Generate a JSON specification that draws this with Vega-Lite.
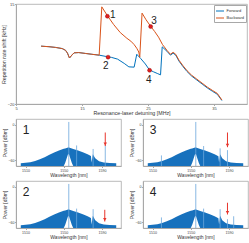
{
  "$schema": "https://vega.github.io/schema/vega-lite/v6.json",
  "background": "white",
  "padding": {"left": 1, "top": 1, "right": 1, "bottom": 0},
  "spacing": 1,
  "resolve": {"scale": {"color": "independent"}, "legend": {"color": "independent"}},
  "config": {
    "font": "Liberation Sans",
    "view": {"stroke": "#a8a8a8", "strokeWidth": 0.8},
    "axis": {"grid": false, "labelOverlap": false, "labelFlush": false, "domainColor": "#a8a8a8", "tickColor": "#a8a8a8", "tickSize": 1.5, "labelColor": "#444", "titleColor": "#333", "titleFontWeight": "normal", "labelFontSize": 4, "titleFontSize": 5.3, "labelPadding": 0.5, "titlePadding": 0.5, "labelFont": "Liberation Sans", "titleFont": "Liberation Sans"}
  },
  "datasets": {
    "spec": [
      {"panel": 1, "kind": "env", "wl": 1505, "hi": -65.5, "lo": -70}, {"panel": 1, "kind": "env", "wl": 1510, "hi": -64.5, "lo": -70}, {"panel": 1, "kind": "env", "wl": 1515, "hi": -63.5, "lo": -70}, {"panel": 1, "kind": "env", "wl": 1520, "hi": -61.5, "lo": -70}, {"panel": 1, "kind": "env", "wl": 1525, "hi": -58.5, "lo": -70}, {"panel": 1, "kind": "env", "wl": 1530, "hi": -55, "lo": -70}, {"panel": 1, "kind": "env", "wl": 1535, "hi": -51, "lo": -70}, {"panel": 1, "kind": "env", "wl": 1540, "hi": -47, "lo": -70}, {"panel": 1, "kind": "env", "wl": 1545, "hi": -43.5, "lo": -70}, {"panel": 1, "kind": "env", "wl": 1550, "hi": -40.5, "lo": -70}, {"panel": 1, "kind": "env", "wl": 1551.5, "hi": -40, "lo": -65}, {"panel": 1, "kind": "env", "wl": 1554.5, "hi": -38.5, "lo": -50}, {"panel": 1, "kind": "env", "wl": 1555.5, "hi": -38.5, "lo": -50}, {"panel": 1, "kind": "env", "wl": 1558.5, "hi": -40, "lo": -65}, {"panel": 1, "kind": "env", "wl": 1560, "hi": -41, "lo": -70}, {"panel": 1, "kind": "env", "wl": 1565, "hi": -43.5, "lo": -70}, {"panel": 1, "kind": "env", "wl": 1570, "hi": -46.5, "lo": -70}, {"panel": 1, "kind": "env", "wl": 1575, "hi": -50, "lo": -70}, {"panel": 1, "kind": "env", "wl": 1578.5, "hi": -53, "lo": -70}, {"panel": 1, "kind": "env", "wl": 1579.2, "hi": -64, "lo": -70}, {"panel": 1, "kind": "env", "wl": 1580.5, "hi": -50, "lo": -70}, {"panel": 1, "kind": "env", "wl": 1583, "hi": -57, "lo": -70}, {"panel": 1, "kind": "env", "wl": 1587, "hi": -62, "lo": -70}, {"panel": 1, "kind": "env", "wl": 1592, "hi": -64, "lo": -70}, {"panel": 1, "kind": "env", "wl": 1598, "hi": -65, "lo": -70}, {"panel": 1, "kind": "env", "wl": 1605, "hi": -65.5, "lo": -70},
      {"panel": 1, "kind": "spike", "wl": 1555.3, "hi": 5, "lo": -70}, {"panel": 1, "kind": "spike", "wl": 1563.5, "hi": -35, "lo": -70}, {"panel": 1, "kind": "spike", "wl": 1580.8, "hi": -41, "lo": -70}, {"panel": 1, "kind": "spike", "wl": 1593.5, "hi": -35, "lo": -70},
      {"panel": 1, "kind": "arrow", "wl": 1593.5, "hi": -13, "lo": -36},
      {"panel": 1, "kind": "label", "wl": 1507, "hi": -15},
      {"panel": 3, "kind": "env", "wl": 1505, "hi": -65.5, "lo": -70}, {"panel": 3, "kind": "env", "wl": 1510, "hi": -64.5, "lo": -70}, {"panel": 3, "kind": "env", "wl": 1515, "hi": -63.5, "lo": -70}, {"panel": 3, "kind": "env", "wl": 1520, "hi": -61.5, "lo": -70}, {"panel": 3, "kind": "env", "wl": 1525, "hi": -58.5, "lo": -70}, {"panel": 3, "kind": "env", "wl": 1530, "hi": -55, "lo": -70}, {"panel": 3, "kind": "env", "wl": 1535, "hi": -51, "lo": -70}, {"panel": 3, "kind": "env", "wl": 1540, "hi": -47, "lo": -70}, {"panel": 3, "kind": "env", "wl": 1545, "hi": -43.5, "lo": -70}, {"panel": 3, "kind": "env", "wl": 1550, "hi": -40.5, "lo": -70}, {"panel": 3, "kind": "env", "wl": 1551.5, "hi": -40, "lo": -65}, {"panel": 3, "kind": "env", "wl": 1554.5, "hi": -38.5, "lo": -50}, {"panel": 3, "kind": "env", "wl": 1555.5, "hi": -38.5, "lo": -50}, {"panel": 3, "kind": "env", "wl": 1558.5, "hi": -40, "lo": -65}, {"panel": 3, "kind": "env", "wl": 1560, "hi": -41, "lo": -70}, {"panel": 3, "kind": "env", "wl": 1565, "hi": -43.5, "lo": -70}, {"panel": 3, "kind": "env", "wl": 1570, "hi": -46.5, "lo": -70}, {"panel": 3, "kind": "env", "wl": 1575, "hi": -50, "lo": -70}, {"panel": 3, "kind": "env", "wl": 1579, "hi": -53.5, "lo": -70}, {"panel": 3, "kind": "env", "wl": 1579.7, "hi": -64, "lo": -70}, {"panel": 3, "kind": "env", "wl": 1580.8, "hi": -50, "lo": -70}, {"panel": 3, "kind": "env", "wl": 1583, "hi": -57, "lo": -70}, {"panel": 3, "kind": "env", "wl": 1587, "hi": -62, "lo": -70}, {"panel": 3, "kind": "env", "wl": 1592, "hi": -64, "lo": -70}, {"panel": 3, "kind": "env", "wl": 1598, "hi": -65, "lo": -70}, {"panel": 3, "kind": "env", "wl": 1605, "hi": -65.5, "lo": -70},
      {"panel": 3, "kind": "spike", "wl": 1555.3, "hi": 5, "lo": -70}, {"panel": 3, "kind": "spike", "wl": 1519.3, "hi": -52, "lo": -70}, {"panel": 3, "kind": "spike", "wl": 1563.5, "hi": -36, "lo": -70}, {"panel": 3, "kind": "spike", "wl": 1580.8, "hi": -40, "lo": -70}, {"panel": 3, "kind": "spike", "wl": 1588.5, "hi": -43, "lo": -70},
      {"panel": 3, "kind": "arrow", "wl": 1588.5, "hi": -13, "lo": -38},
      {"panel": 3, "kind": "label", "wl": 1507, "hi": -15},
      {"panel": 2, "kind": "env", "wl": 1505, "hi": -65.5, "lo": -70}, {"panel": 2, "kind": "env", "wl": 1510, "hi": -64.5, "lo": -70}, {"panel": 2, "kind": "env", "wl": 1515, "hi": -63.5, "lo": -70}, {"panel": 2, "kind": "env", "wl": 1520, "hi": -61.5, "lo": -70}, {"panel": 2, "kind": "env", "wl": 1525, "hi": -58.5, "lo": -70}, {"panel": 2, "kind": "env", "wl": 1530, "hi": -55, "lo": -70}, {"panel": 2, "kind": "env", "wl": 1535, "hi": -51, "lo": -70}, {"panel": 2, "kind": "env", "wl": 1540, "hi": -47, "lo": -70}, {"panel": 2, "kind": "env", "wl": 1545, "hi": -43.5, "lo": -70}, {"panel": 2, "kind": "env", "wl": 1550, "hi": -40.5, "lo": -70}, {"panel": 2, "kind": "env", "wl": 1551.5, "hi": -40, "lo": -65}, {"panel": 2, "kind": "env", "wl": 1554.5, "hi": -38.5, "lo": -50}, {"panel": 2, "kind": "env", "wl": 1555.5, "hi": -38.5, "lo": -50}, {"panel": 2, "kind": "env", "wl": 1558.5, "hi": -40, "lo": -65}, {"panel": 2, "kind": "env", "wl": 1560, "hi": -41, "lo": -70}, {"panel": 2, "kind": "env", "wl": 1565, "hi": -43.5, "lo": -70}, {"panel": 2, "kind": "env", "wl": 1570, "hi": -46.5, "lo": -70}, {"panel": 2, "kind": "env", "wl": 1575, "hi": -50, "lo": -70}, {"panel": 2, "kind": "env", "wl": 1578.5, "hi": -53, "lo": -70}, {"panel": 2, "kind": "env", "wl": 1579.2, "hi": -64, "lo": -70}, {"panel": 2, "kind": "env", "wl": 1580.5, "hi": -49, "lo": -70}, {"panel": 2, "kind": "env", "wl": 1583, "hi": -57, "lo": -70}, {"panel": 2, "kind": "env", "wl": 1587, "hi": -62, "lo": -70}, {"panel": 2, "kind": "env", "wl": 1592, "hi": -64, "lo": -70}, {"panel": 2, "kind": "env", "wl": 1598, "hi": -65, "lo": -70}, {"panel": 2, "kind": "env", "wl": 1605, "hi": -65.5, "lo": -70},
      {"panel": 2, "kind": "spike", "wl": 1555.3, "hi": 5, "lo": -70}, {"panel": 2, "kind": "spike", "wl": 1563.5, "hi": -37, "lo": -70}, {"panel": 2, "kind": "spike", "wl": 1580.8, "hi": -38, "lo": -70},
      {"panel": 2, "kind": "arrow", "wl": 1593, "hi": -39, "lo": -59},
      {"panel": 2, "kind": "label", "wl": 1507, "hi": -15},
      {"panel": 4, "kind": "env", "wl": 1505, "hi": -65.5, "lo": -70}, {"panel": 4, "kind": "env", "wl": 1510, "hi": -64.5, "lo": -70}, {"panel": 4, "kind": "env", "wl": 1515, "hi": -63.5, "lo": -70}, {"panel": 4, "kind": "env", "wl": 1520, "hi": -61.5, "lo": -70}, {"panel": 4, "kind": "env", "wl": 1525, "hi": -58.5, "lo": -70}, {"panel": 4, "kind": "env", "wl": 1530, "hi": -55, "lo": -70}, {"panel": 4, "kind": "env", "wl": 1535, "hi": -51, "lo": -70}, {"panel": 4, "kind": "env", "wl": 1540, "hi": -47, "lo": -70}, {"panel": 4, "kind": "env", "wl": 1545, "hi": -43.5, "lo": -70}, {"panel": 4, "kind": "env", "wl": 1550, "hi": -40.5, "lo": -70}, {"panel": 4, "kind": "env", "wl": 1551.5, "hi": -40, "lo": -65}, {"panel": 4, "kind": "env", "wl": 1554.5, "hi": -38.5, "lo": -50}, {"panel": 4, "kind": "env", "wl": 1555.5, "hi": -38.5, "lo": -50}, {"panel": 4, "kind": "env", "wl": 1558.5, "hi": -40, "lo": -65}, {"panel": 4, "kind": "env", "wl": 1560, "hi": -41, "lo": -70}, {"panel": 4, "kind": "env", "wl": 1565, "hi": -43.5, "lo": -70}, {"panel": 4, "kind": "env", "wl": 1570, "hi": -46.5, "lo": -70}, {"panel": 4, "kind": "env", "wl": 1575, "hi": -50, "lo": -70}, {"panel": 4, "kind": "env", "wl": 1579, "hi": -53.5, "lo": -70}, {"panel": 4, "kind": "env", "wl": 1579.7, "hi": -64, "lo": -70}, {"panel": 4, "kind": "env", "wl": 1580.8, "hi": -49, "lo": -70}, {"panel": 4, "kind": "env", "wl": 1583, "hi": -57, "lo": -70}, {"panel": 4, "kind": "env", "wl": 1587, "hi": -62, "lo": -70}, {"panel": 4, "kind": "env", "wl": 1592, "hi": -64, "lo": -70}, {"panel": 4, "kind": "env", "wl": 1598, "hi": -65, "lo": -70}, {"panel": 4, "kind": "env", "wl": 1605, "hi": -65.5, "lo": -70},
      {"panel": 4, "kind": "spike", "wl": 1555.3, "hi": 5, "lo": -70}, {"panel": 4, "kind": "spike", "wl": 1519.3, "hi": -52, "lo": -70}, {"panel": 4, "kind": "spike", "wl": 1563.5, "hi": -37, "lo": -70}, {"panel": 4, "kind": "spike", "wl": 1580.8, "hi": -38, "lo": -70}, {"panel": 4, "kind": "spike", "wl": 1588.5, "hi": -55, "lo": -70}, {"panel": 4, "kind": "spike", "wl": 1595, "hi": -50, "lo": -70},
      {"panel": 4, "kind": "arrow", "wl": 1588.5, "hi": -27, "lo": -47},
      {"panel": 4, "kind": "label", "wl": 1507, "hi": -15}
    ]
  },
  "vconcat": [
    {
      "width": 231,
      "height": 100,
      "layer": [
        {
          "data": {"values": [
            {"dir": "Forward", "x": 8.8, "y": 0.25}, {"dir": "Forward", "x": 10, "y": 0.05}, {"dir": "Forward", "x": 11, "y": -0.2}, {"dir": "Forward", "x": 12, "y": -0.6}, {"dir": "Forward", "x": 12.5, "y": -1.2}, {"dir": "Forward", "x": 12.8, "y": -2.2}, {"dir": "Forward", "x": 13.1, "y": -3.9}, {"dir": "Forward", "x": 13.5, "y": -2.8}, {"dir": "Forward", "x": 13.8, "y": -2.1}, {"dir": "Forward", "x": 14.5, "y": -2.0}, {"dir": "Forward", "x": 15.5, "y": -2.3}, {"dir": "Forward", "x": 16.5, "y": -2.6}, {"dir": "Forward", "x": 17.6, "y": -2.9},
            {"dir": "Forward", "x": 18.5, "y": -3.3}, {"dir": "Forward", "x": 19.5, "y": -3.7}, {"dir": "Forward", "x": 20.4, "y": -4.3}, {"dir": "Forward", "x": 21.4, "y": -5.8}, {"dir": "Forward", "x": 22.1, "y": -7.0}, {"dir": "Forward", "x": 22.9, "y": -7.1}, {"dir": "Forward", "x": 23.3, "y": -2.6}, {"dir": "Forward", "x": 23.9, "y": -4.1}, {"dir": "Forward", "x": 24.6, "y": -6.0}, {"dir": "Forward", "x": 25.2, "y": -8.0}, {"dir": "Forward", "x": 25.8, "y": -8.7}, {"dir": "Forward", "x": 26.4, "y": -9.3}, {"dir": "Forward", "x": 26.9, "y": -9.8}, {"dir": "Forward", "x": 27.15, "y": 0.0}, {"dir": "Forward", "x": 27.9, "y": -1.6}, {"dir": "Forward", "x": 28.4, "y": -2.9}, {"dir": "Forward", "x": 28.8, "y": -2.2}, {"dir": "Forward", "x": 29.2, "y": -2.9}, {"dir": "Forward", "x": 29.7, "y": -5.0}, {"dir": "Forward", "x": 30.3, "y": -6.9}, {"dir": "Forward", "x": 30.9, "y": -8.6}, {"dir": "Forward", "x": 31.6, "y": -10.2}, {"dir": "Forward", "x": 32.4, "y": -11.6}, {"dir": "Forward", "x": 33.2, "y": -13.0}, {"dir": "Forward", "x": 34.0, "y": -14.4}, {"dir": "Forward", "x": 34.8, "y": -15.6}, {"dir": "Forward", "x": 35.5, "y": -16.6}, {"dir": "Forward", "x": 36.2, "y": -18.8},
            {"dir": "Backward", "x": 8.8, "y": 0.25}, {"dir": "Backward", "x": 10, "y": 0.05}, {"dir": "Backward", "x": 11, "y": -0.2}, {"dir": "Backward", "x": 12, "y": -0.6}, {"dir": "Backward", "x": 12.5, "y": -1.2}, {"dir": "Backward", "x": 12.8, "y": -2.2}, {"dir": "Backward", "x": 13.1, "y": -3.9}, {"dir": "Backward", "x": 13.5, "y": -2.8}, {"dir": "Backward", "x": 13.8, "y": -2.1}, {"dir": "Backward", "x": 14.5, "y": -2.0}, {"dir": "Backward", "x": 15.5, "y": -2.3}, {"dir": "Backward", "x": 16.5, "y": -2.6}, {"dir": "Backward", "x": 17.6, "y": -2.9},
            {"dir": "Backward", "x": 18.0, "y": 14.0}, {"dir": "Backward", "x": 18.85, "y": 10.9}, {"dir": "Backward", "x": 19.8, "y": 7.8}, {"dir": "Backward", "x": 20.8, "y": 5.0}, {"dir": "Backward", "x": 21.8, "y": 3.0}, {"dir": "Backward", "x": 22.4, "y": 2.0}, {"dir": "Backward", "x": 22.9, "y": 0.8}, {"dir": "Backward", "x": 23.3, "y": -0.5}, {"dir": "Backward", "x": 23.6, "y": -1.8}, {"dir": "Backward", "x": 23.75, "y": -3.6}, {"dir": "Backward", "x": 24.1, "y": 11.8}, {"dir": "Backward", "x": 24.7, "y": 9.5}, {"dir": "Backward", "x": 25.4, "y": 7.2}, {"dir": "Backward", "x": 26.0, "y": 5.4}, {"dir": "Backward", "x": 26.6, "y": 3.4}, {"dir": "Backward", "x": 27.2, "y": 0.8}, {"dir": "Backward", "x": 27.9, "y": -1.3}, {"dir": "Backward", "x": 28.4, "y": -2.6}, {"dir": "Backward", "x": 28.8, "y": -1.9}, {"dir": "Backward", "x": 29.2, "y": -2.6}, {"dir": "Backward", "x": 29.7, "y": -4.7}, {"dir": "Backward", "x": 30.3, "y": -6.6}, {"dir": "Backward", "x": 30.9, "y": -8.3}, {"dir": "Backward", "x": 31.6, "y": -9.9}, {"dir": "Backward", "x": 32.4, "y": -11.3}, {"dir": "Backward", "x": 33.2, "y": -12.7}, {"dir": "Backward", "x": 34.0, "y": -14.1}, {"dir": "Backward", "x": 34.8, "y": -15.3}, {"dir": "Backward", "x": 35.5, "y": -16.3}, {"dir": "Backward", "x": 36.2, "y": -18.6}
          ]},
          "layer": [
            {
              "transform": [{"filter": "datum.dir == 'Forward'"}],
              "mark": {"type": "line", "strokeWidth": 1},
              "encoding": {
                "x": {"field": "x", "type": "quantitative", "scale": {"domain": [5, 40]}, "axis": {"values": [5, 10, 15, 20, 25, 30, 35, 40], "title": "Resonance-laser detuning [MHz]", "labelOverlap": false, "labelFontSize": 4}},
                "y": {"field": "y", "type": "quantitative", "scale": {"domain": [-20, 15]}, "axis": {"values": [-20, -15, -10, -5, 0, 5, 10, 15], "title": "Repetition rate shift [kHz]", "labelOverlap": false, "labelFontSize": 4}},
                "color": {"field": "dir", "type": "nominal", "scale": {"domain": ["Forward", "Backward"], "range": ["#0072BD", "#D95319"]}, "legend": {"title": null, "orient": "top-right", "offset": 1, "symbolType": "stroke", "symbolSize": 64, "symbolStrokeWidth": 1, "labelFontSize": 4, "labelColor": "#333", "rowPadding": 0, "padding": 1.5, "strokeColor": "#a8a8a8", "fillColor": "white", "labelOffset": 2, "symbolOffset": 0}}
              }
            },
            {
              "transform": [{"filter": "datum.dir == 'Backward'"}],
              "mark": {"type": "line", "strokeWidth": 1},
              "encoding": {
                "x": {"field": "x", "type": "quantitative"},
                "y": {"field": "y", "type": "quantitative"},
                "color": {"field": "dir", "type": "nominal"}
              }
            }
          ]
        },
        {
          "data": {"values": [
            {"n": "1", "x": 18.85, "y": 10.7, "lx": 19.25, "ly": 10.0},
            {"n": "2", "x": 18.95, "y": -3.6, "lx": 18.2, "ly": -7.9},
            {"n": "3", "x": 25.4, "y": 7.1, "lx": 25.5, "ly": 8.1},
            {"n": "4", "x": 25.24, "y": -8.2, "lx": 24.7, "ly": -12.6}
          ]},
          "layer": [
            {
              "mark": {"type": "point", "filled": true, "size": 16, "color": "#e02020", "stroke": "#8a0000", "strokeWidth": 0.4, "opacity": 1},
              "encoding": {"x": {"field": "x", "type": "quantitative"}, "y": {"field": "y", "type": "quantitative"}}
            },
            {
              "mark": {"type": "text", "fontSize": 10, "align": "left", "baseline": "alphabetic", "color": "#222", "font": "Liberation Sans"},
              "encoding": {"x": {"field": "lx", "type": "quantitative"}, "y": {"field": "ly", "type": "quantitative"}, "text": {"field": "n"}}
            }
          ]
        }
      ]
    },
    {
      "vconcat": [
        {
          "hconcat": [
            {"width": 105, "height": 47, "data": {"name": "spec"}, "transform": [{"filter": "datum.panel == 1"}], "layer": [
              {"transform": [{"filter": "datum.kind == 'env'"}], "mark": {"type": "area", "color": "#1771bd", "opacity": 1}, "encoding": {"x": {"field": "wl", "type": "quantitative", "scale": {"domain": [1505, 1605]}, "axis": {"values": [1510, 1520, 1530, 1540, 1550, 1560, 1570, 1580, 1590, 1600], "format": "d", "title": "Wavelength [nm]", "labelFontSize": 3.6, "titleFontSize": 5, "labelOverlap": false}}, "y": {"field": "hi", "type": "quantitative", "scale": {"domain": [-70, 10]}, "axis": {"values": [0, -20, -40, -60], "title": "Power [dBm]", "labelFontSize": 3.6, "titleFontSize": 5, "labelOverlap": false}}, "y2": {"field": "lo"}}},
              {"transform": [{"filter": "datum.kind == 'spike'"}], "mark": {"type": "rule", "color": "#6aa6dc", "strokeWidth": 0.8}, "encoding": {"x": {"field": "wl", "type": "quantitative"}, "y": {"field": "hi", "type": "quantitative"}, "y2": {"field": "lo"}}},
              {"transform": [{"filter": "datum.kind == 'arrow'"}], "mark": {"type": "rule", "color": "#e8352c", "strokeWidth": 1}, "encoding": {"x": {"field": "wl", "type": "quantitative"}, "y": {"field": "hi", "type": "quantitative"}, "y2": {"field": "lo"}}},
              {"transform": [{"filter": "datum.kind == 'arrow'"}], "mark": {"type": "point", "shape": "triangle-down", "filled": true, "color": "#e8352c", "size": 12, "opacity": 1, "yOffset": -2}, "encoding": {"x": {"field": "wl", "type": "quantitative"}, "y": {"field": "lo", "type": "quantitative"}}},
              {"transform": [{"filter": "datum.kind == 'label'"}], "mark": {"type": "text", "fontSize": 12, "align": "left", "baseline": "alphabetic", "color": "#222", "font": "Liberation Sans"}, "encoding": {"x": {"field": "wl", "type": "quantitative"}, "y": {"field": "hi", "type": "quantitative"}, "text": {"field": "panel"}}}
            ]},
            {"width": 105, "height": 47, "data": {"name": "spec"}, "transform": [{"filter": "datum.panel == 3"}], "layer": [
              {"transform": [{"filter": "datum.kind == 'env'"}], "mark": {"type": "area", "color": "#1771bd", "opacity": 1}, "encoding": {"x": {"field": "wl", "type": "quantitative", "scale": {"domain": [1505, 1605]}, "axis": {"values": [1510, 1520, 1530, 1540, 1550, 1560, 1570, 1580, 1590, 1600], "format": "d", "title": "Wavelength [nm]", "labelFontSize": 3.6, "titleFontSize": 5, "labelOverlap": false}}, "y": {"field": "hi", "type": "quantitative", "scale": {"domain": [-70, 10]}, "axis": {"values": [0, -20, -40, -60], "title": "Power [dBm]", "labelFontSize": 3.6, "titleFontSize": 5, "labelOverlap": false}}, "y2": {"field": "lo"}}},
              {"transform": [{"filter": "datum.kind == 'spike'"}], "mark": {"type": "rule", "color": "#6aa6dc", "strokeWidth": 0.8}, "encoding": {"x": {"field": "wl", "type": "quantitative"}, "y": {"field": "hi", "type": "quantitative"}, "y2": {"field": "lo"}}},
              {"transform": [{"filter": "datum.kind == 'arrow'"}], "mark": {"type": "rule", "color": "#e8352c", "strokeWidth": 1}, "encoding": {"x": {"field": "wl", "type": "quantitative"}, "y": {"field": "hi", "type": "quantitative"}, "y2": {"field": "lo"}}},
              {"transform": [{"filter": "datum.kind == 'arrow'"}], "mark": {"type": "point", "shape": "triangle-down", "filled": true, "color": "#e8352c", "size": 12, "opacity": 1, "yOffset": -2}, "encoding": {"x": {"field": "wl", "type": "quantitative"}, "y": {"field": "lo", "type": "quantitative"}}},
              {"transform": [{"filter": "datum.kind == 'label'"}], "mark": {"type": "text", "fontSize": 12, "align": "left", "baseline": "alphabetic", "color": "#222", "font": "Liberation Sans"}, "encoding": {"x": {"field": "wl", "type": "quantitative"}, "y": {"field": "hi", "type": "quantitative"}, "text": {"field": "panel"}}}
            ]}
          ],
          "spacing": 7
        },
        {
          "hconcat": [
            {"width": 105, "height": 47, "data": {"name": "spec"}, "transform": [{"filter": "datum.panel == 2"}], "layer": [
              {"transform": [{"filter": "datum.kind == 'env'"}], "mark": {"type": "area", "color": "#1771bd", "opacity": 1}, "encoding": {"x": {"field": "wl", "type": "quantitative", "scale": {"domain": [1505, 1605]}, "axis": {"values": [1510, 1520, 1530, 1540, 1550, 1560, 1570, 1580, 1590, 1600], "format": "d", "title": "Wavelength [nm]", "labelFontSize": 3.6, "titleFontSize": 5, "labelOverlap": false}}, "y": {"field": "hi", "type": "quantitative", "scale": {"domain": [-70, 10]}, "axis": {"values": [0, -20, -40, -60], "title": "Power [dBm]", "labelFontSize": 3.6, "titleFontSize": 5, "labelOverlap": false}}, "y2": {"field": "lo"}}},
              {"transform": [{"filter": "datum.kind == 'spike'"}], "mark": {"type": "rule", "color": "#6aa6dc", "strokeWidth": 0.8}, "encoding": {"x": {"field": "wl", "type": "quantitative"}, "y": {"field": "hi", "type": "quantitative"}, "y2": {"field": "lo"}}},
              {"transform": [{"filter": "datum.kind == 'arrow'"}], "mark": {"type": "rule", "color": "#e8352c", "strokeWidth": 1}, "encoding": {"x": {"field": "wl", "type": "quantitative"}, "y": {"field": "hi", "type": "quantitative"}, "y2": {"field": "lo"}}},
              {"transform": [{"filter": "datum.kind == 'arrow'"}], "mark": {"type": "point", "shape": "triangle-down", "filled": true, "color": "#e8352c", "size": 12, "opacity": 1, "yOffset": -2}, "encoding": {"x": {"field": "wl", "type": "quantitative"}, "y": {"field": "lo", "type": "quantitative"}}},
              {"transform": [{"filter": "datum.kind == 'label'"}], "mark": {"type": "text", "fontSize": 12, "align": "left", "baseline": "alphabetic", "color": "#222", "font": "Liberation Sans"}, "encoding": {"x": {"field": "wl", "type": "quantitative"}, "y": {"field": "hi", "type": "quantitative"}, "text": {"field": "panel"}}}
            ]},
            {"width": 105, "height": 47, "data": {"name": "spec"}, "transform": [{"filter": "datum.panel == 4"}], "layer": [
              {"transform": [{"filter": "datum.kind == 'env'"}], "mark": {"type": "area", "color": "#1771bd", "opacity": 1}, "encoding": {"x": {"field": "wl", "type": "quantitative", "scale": {"domain": [1505, 1605]}, "axis": {"values": [1510, 1520, 1530, 1540, 1550, 1560, 1570, 1580, 1590, 1600], "format": "d", "title": "Wavelength [nm]", "labelFontSize": 3.6, "titleFontSize": 5, "labelOverlap": false}}, "y": {"field": "hi", "type": "quantitative", "scale": {"domain": [-70, 10]}, "axis": {"values": [0, -20, -40, -60], "title": "Power [dBm]", "labelFontSize": 3.6, "titleFontSize": 5, "labelOverlap": false}}, "y2": {"field": "lo"}}},
              {"transform": [{"filter": "datum.kind == 'spike'"}], "mark": {"type": "rule", "color": "#6aa6dc", "strokeWidth": 0.8}, "encoding": {"x": {"field": "wl", "type": "quantitative"}, "y": {"field": "hi", "type": "quantitative"}, "y2": {"field": "lo"}}},
              {"transform": [{"filter": "datum.kind == 'arrow'"}], "mark": {"type": "rule", "color": "#e8352c", "strokeWidth": 1}, "encoding": {"x": {"field": "wl", "type": "quantitative"}, "y": {"field": "hi", "type": "quantitative"}, "y2": {"field": "lo"}}},
              {"transform": [{"filter": "datum.kind == 'arrow'"}], "mark": {"type": "point", "shape": "triangle-down", "filled": true, "color": "#e8352c", "size": 12, "opacity": 1, "yOffset": -2}, "encoding": {"x": {"field": "wl", "type": "quantitative"}, "y": {"field": "lo", "type": "quantitative"}}},
              {"transform": [{"filter": "datum.kind == 'label'"}], "mark": {"type": "text", "fontSize": 12, "align": "left", "baseline": "alphabetic", "color": "#222", "font": "Liberation Sans"}, "encoding": {"x": {"field": "wl", "type": "quantitative"}, "y": {"field": "hi", "type": "quantitative"}, "text": {"field": "panel"}}}
            ]}
          ],
          "spacing": 7
        }
      ],
      "spacing": 2
    }
  ]
}
